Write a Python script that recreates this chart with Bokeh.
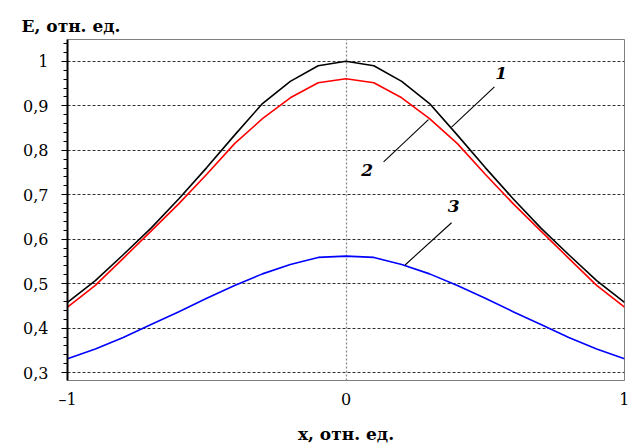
from bokeh.plotting import figure
from bokeh.models import FixedTicker, Label, Range1d, Title
from bokeh.embed import file_html
from bokeh.resources import INLINE

# ---- data ----
x_values = [-1.0, -0.9, -0.8, -0.7, -0.6, -0.5, -0.4, -0.3, -0.2, -0.1, 0.0,
            0.1, 0.2, 0.3, 0.4, 0.5, 0.6, 0.7, 0.8, 0.9, 1.0]
curve_1 = [0.458, 0.507, 0.565, 0.625, 0.691, 0.761, 0.834, 0.905, 0.955, 0.990, 1.000,
           0.990, 0.955, 0.905, 0.834, 0.761, 0.691, 0.625, 0.565, 0.507, 0.458]
curve_2 = [0.447, 0.496, 0.557, 0.618, 0.680, 0.746, 0.815, 0.871, 0.918, 0.952, 0.961,
           0.952, 0.918, 0.871, 0.815, 0.746, 0.680, 0.618, 0.557, 0.496, 0.447]
curve_3 = [0.331, 0.353, 0.379, 0.408, 0.437, 0.467, 0.496, 0.522, 0.543, 0.559, 0.562,
           0.559, 0.543, 0.522, 0.496, 0.467, 0.437, 0.408, 0.379, 0.353, 0.331]
curve_names = ["1", "2", "3"]
curve_colors = ["#000000", "#ff0000", "#0000ff"]

y_ticks = [0.3, 0.4, 0.5, 0.6, 0.7, 0.8, 0.9, 1.0]
y_tick_labels = ["0,3", "0,4", "0,5", "0,6", "0,7", "0,8", "0,9", "1"]
x_ticks = [-1, 0, 1]
x_tick_labels = ["\u20131", "0", "1"]
y_title = "E, отн. ед."
x_title = "x, отн. ед."

FONT = "DejaVu Serif"
FS = "16px"
FS_TITLE = "17px"

p = figure(width=629, height=446, output_backend="svg", toolbar_location=None,
           x_range=Range1d(-1, 1), y_range=Range1d(0.2822, 1.0491),
           min_border_left=67, min_border_right=5, min_border_top=39,
           min_border_bottom=59)
p.outline_line_color = "#808080"
p.outline_line_width = 1
p.background_fill_color = "white"
p.border_fill_color = "white"

t = Title(text=y_title, text_font=FONT, text_font_style="bold", text_font_size=FS_TITLE,
          text_color="black", align="left", offset=-46, standoff=8)
p.add_layout(t, "above")

# grid
p.ygrid.ticker = FixedTicker(ticks=y_ticks)
p.ygrid.grid_line_color = "#303030"
p.ygrid.grid_line_dash = "3 2"
p.ygrid.grid_line_width = 1
p.xgrid.ticker = FixedTicker(ticks=[0])
p.xgrid.grid_line_color = "#8a8a8a"
p.xgrid.grid_line_dash = "2 2"
p.xgrid.grid_line_width = 1.3

# y axis
minor = [round(0.28 + 0.02 * i, 2) for i in range(39)]
ya = p.yaxis[0]
ya.ticker = FixedTicker(ticks=y_ticks, minor_ticks=minor)
ya.major_label_overrides = {t: s for t, s in zip(y_ticks, y_tick_labels)}
ya.major_label_text_font = FONT
ya.major_label_text_font_size = FS
ya.major_label_text_color = "black"
ya.major_label_standoff = 13
ya.axis_line_color = "black"
ya.axis_line_width = 2
ya.major_tick_out = 6
ya.major_tick_in = 0
ya.minor_tick_out = 4
ya.minor_tick_in = 0
ya.major_tick_line_color = "black"
ya.minor_tick_line_color = "black"

# x axis
xa = p.xaxis[0]
xa.ticker = FixedTicker(ticks=x_ticks)
xa.major_label_overrides = {t: s for t, s in zip(x_ticks, x_tick_labels)}
xa.major_label_text_font = FONT
xa.major_label_text_font_size = FS
xa.major_label_text_color = "black"
xa.major_label_standoff = 9
xa.axis_line_color = "#808080"
xa.major_tick_out = 0
xa.major_tick_in = 0
xa.minor_tick_out = 0
xa.minor_tick_in = 0
xa.axis_label = x_title
xa.axis_label_text_font = FONT
xa.axis_label_text_font_size = FS_TITLE
xa.axis_label_text_font_style = "bold"
xa.axis_label_text_color = "black"
xa.axis_label_standoff = 12

# curves
for ys, c in zip([curve_1, curve_2, curve_3], curve_colors):
    p.line(x_values, ys, line_color=c, line_width=1.6)

# leader lines and curve numbers
lead_x0 = [0.533, 0.135, 0.379]
lead_y0 = [0.9425, 0.774, 0.637]
lead_x1 = [0.379, 0.296, 0.212]
lead_y1 = [0.852, 0.869, 0.542]
p.segment(lead_x0, lead_y0, lead_x1, lead_y1, line_color="black", line_width=1.1)
num_pos = [(0.557, 0.974), (0.076, 0.755), (0.387, 0.674)]
for (lx, ly), name in zip(num_pos, curve_names):
    p.add_layout(Label(x=lx, y=ly, text=name, text_font=FONT, text_color="black",
                       text_font_style="bold italic", text_font_size="17px",
                       text_align="center", text_baseline="middle"))

open("out.html", "w").write(file_html(p, INLINE))
